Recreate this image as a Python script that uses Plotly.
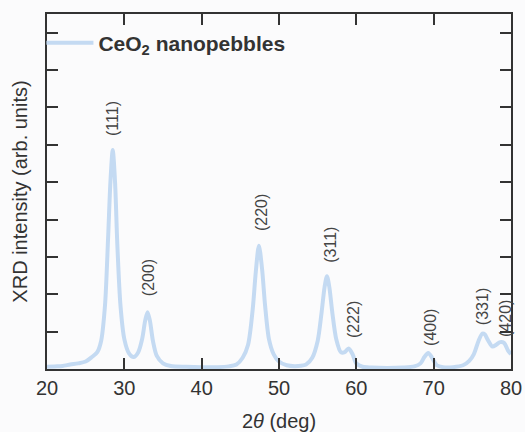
import plotly.graph_objects as go

# ---- data ----
two_theta = [20, 21, 22, 23, 24, 25, 25.8, 26.5, 27.0, 27.5, 27.9, 28.2, 28.5, 28.8, 29.1, 29.5,
             30.0, 30.6, 31.2, 31.8, 32.3, 32.7, 33.0, 33.3, 33.7, 34.2, 35.0, 36, 38, 40, 42,
             43.5, 44.5, 45.3, 46.0, 46.6, 47.0, 47.4, 47.8, 48.2, 48.7, 49.3, 50.0, 51, 52.5,
             53.5, 54.3, 55.0, 55.5, 55.9, 56.2, 56.5, 56.9, 57.4, 58.0, 58.5, 59.0, 59.5, 60.0,
             60.8, 62, 64, 66, 67.5, 68.3, 68.8, 69.3, 69.8, 70.4, 71.2, 72.5, 73.8, 74.6, 75.2,
             75.8, 76.3, 76.6, 77.0, 77.6, 78.1, 78.6, 79.1, 79.6, 80]
intensity = [0.06, 0.07, 0.08, 0.12, 0.15, 0.2, 0.32, 0.45, 0.75, 1.7, 3.5, 5.0, 5.86, 5.0, 3.3, 1.7,
             0.8, 0.42, 0.32, 0.45, 0.8, 1.3, 1.52, 1.3, 0.75, 0.35, 0.15, 0.08, 0.06, 0.05, 0.05,
             0.07, 0.12, 0.3, 0.65, 1.6, 2.6, 3.3, 2.7, 1.7, 0.8, 0.4, 0.2, 0.1, 0.08,
             0.12, 0.3, 0.75, 1.5, 2.2, 2.48, 2.2, 1.5, 0.8, 0.45, 0.45, 0.55, 0.4, 0.15,
             0.06, 0.04, 0.03, 0.04, 0.07, 0.15, 0.32, 0.43, 0.3, 0.1, 0.05, 0.05, 0.1, 0.22, 0.4,
             0.75, 0.95, 0.93, 0.78, 0.6, 0.65, 0.72, 0.7, 0.5, 0.4]

peak_labels = ["(111)", "(200)", "(220)", "(311)", "(222)", "(400)", "(331)", "(420)"]
label_x = [28.5, 33.06, 47.67, 56.7, 59.57, 69.5, 76.4, 79.2]
label_y = [6.71, 2.43, 4.2, 3.32, 1.31, 1.12, 1.66, 1.36]

series_name = "CeO<sub>2</sub> nanopebbles"
x_ticks = [20, 30, 40, 50, 60, 70, 80]

FONT = "Liberation Sans, Arial, sans-serif"
AX = "#333333"

fig = go.Figure()
fig.add_trace(go.Scatter(
    x=two_theta, y=intensity, mode="lines", name=series_name,
    line=dict(color="#c4daf2", width=4, shape="spline", smoothing=0.8),
))

for t, xx, yy in zip(peak_labels, label_x, label_y):
    fig.add_annotation(x=xx, y=yy, text=t, textangle=-90, showarrow=False,
                       font=dict(family=FONT, size=16, color="#444444"))

fig.update_layout(
    width=525, height=432,
    margin=dict(l=47, r=14, t=14, b=63),
    paper_bgcolor="#fbfbfc", plot_bgcolor="#fbfbfc",
    font=dict(family=FONT, color=AX),
    showlegend=True,
    legend=dict(x=-0.012, y=0.976, xanchor="left", yanchor="top",
                bgcolor="rgba(0,0,0,0)", itemwidth=47,
                font=dict(family=FONT, size=21, color=AX, weight="bold")),
    xaxis=dict(range=[20, 80], tickvals=x_ticks, ticks="inside", ticklen=11, tickwidth=2,
               tickcolor=AX, showline=True, linewidth=2, linecolor=AX, mirror="ticks",
               showgrid=False, zeroline=False, automargin=False,
               tickfont=dict(family=FONT, size=20, color=AX),
               title=dict(text="2<i>θ</i> (deg)", font=dict(family=FONT, size=20, color=AX), standoff=18)),
    yaxis=dict(range=[0, 9.5], dtick=1, ticks="inside", ticklen=11, tickwidth=2,
               tickcolor=AX, showline=True, linewidth=2, linecolor=AX, mirror="ticks",
               showgrid=False, zeroline=False, showticklabels=False, automargin=False,
               title=dict(text="XRD intensity (arb. units)", font=dict(family=FONT, size=20, color=AX), standoff=12)),
)

fig.write_html("out.html", config={"displayModeBar": False},
               post_script="document.body.style.margin='0';document.body.style.overflow='hidden';")
